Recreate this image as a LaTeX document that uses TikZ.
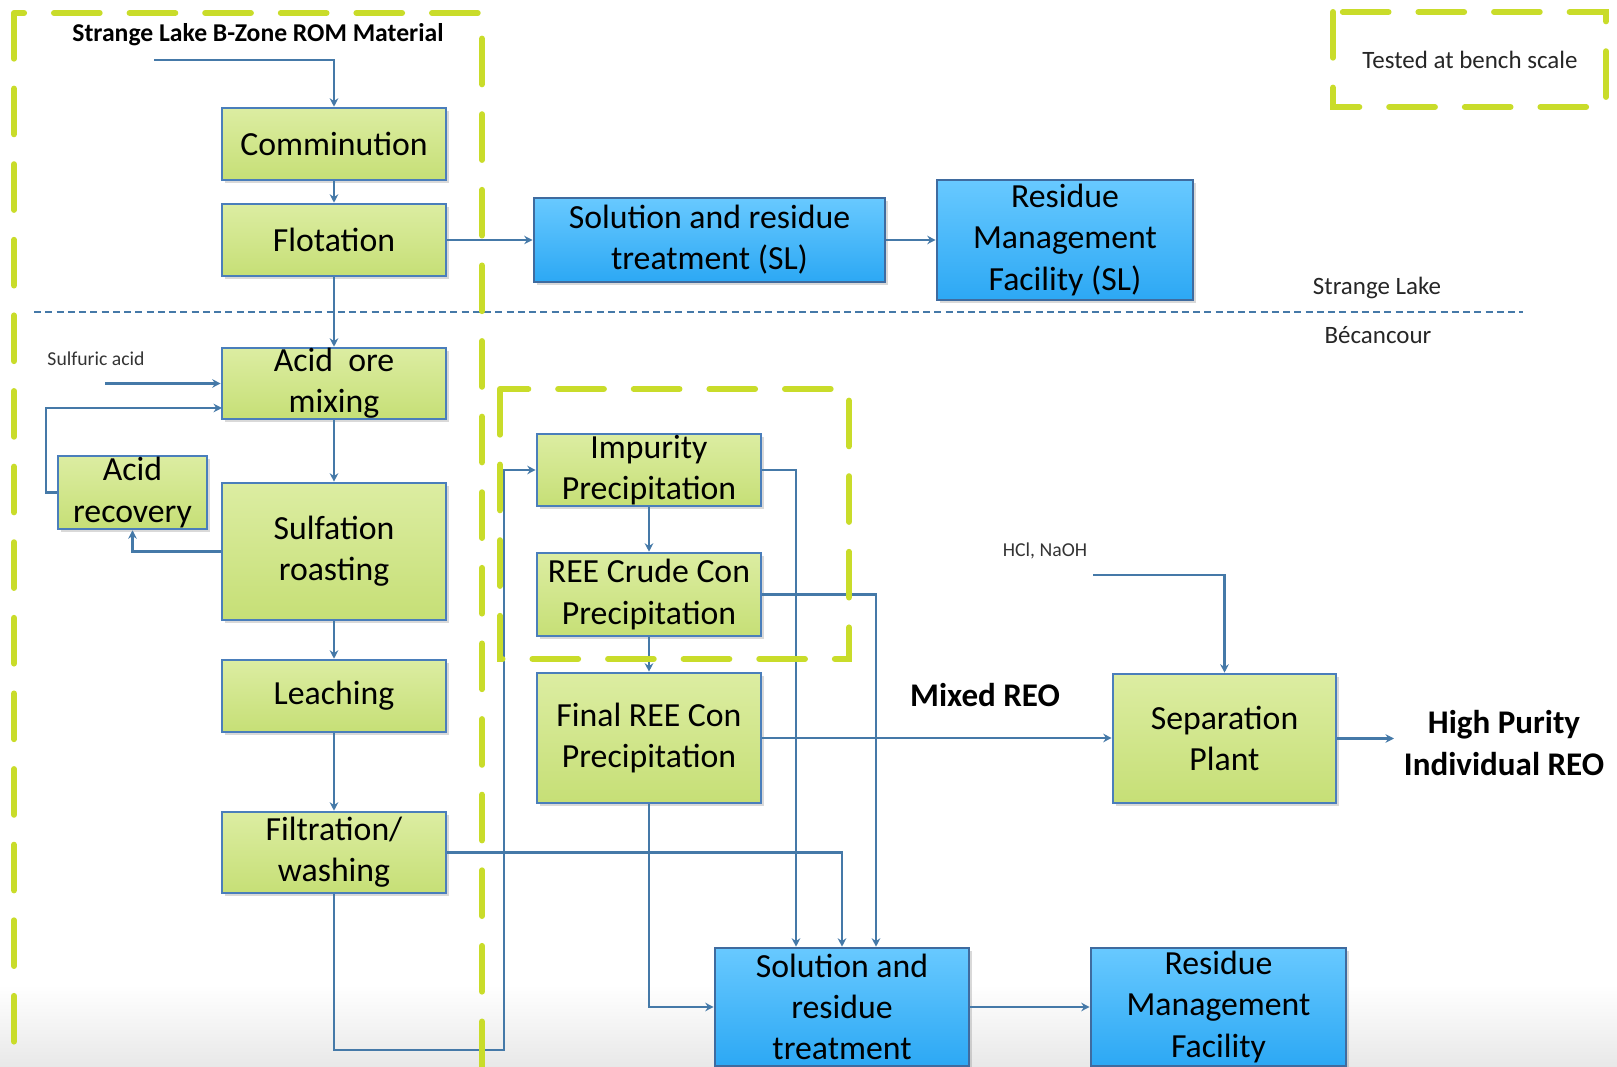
\documentclass[tikz,border=0pt]{standalone}
\usepackage{fontspec}
\setmainfont{Carlito}
\usepackage{tikz}
\usetikzlibrary{positioning}
\usetikzlibrary{calc}
\usetikzlibrary{shadows}
\usetikzlibrary{arrows.meta}
\definecolor{boxline}{HTML}{4A7EBB}
\definecolor{flowline}{HTML}{4579A8}
\definecolor{greentop}{HTML}{DCEDA2}
\definecolor{greenbot}{HTML}{C6DF76}
\definecolor{bluetop}{HTML}{68C9FF}
\definecolor{bluebot}{HTML}{2CA8F4}
\definecolor{benchdash}{HTML}{C9DC2A}

\begin{document}
\begin{tikzpicture}[x=0.01cm, y=-0.01cm,
  gbox/.style={draw=boxline, line width=0.7pt, top color=greentop, bottom color=greenbot, align=center, inner sep=0pt, font=\fontsize{9.6}{11.7}\selectfont, drop shadow={shadow xshift=0.9pt, shadow yshift=-0.9pt, opacity=0.3}},
  bbox/.style={gbox, top color=bluetop, bottom color=bluebot, draw=boxline!85!black},
  flow/.style={draw=flowline, line width=0.6pt, -{Stealth[length=2.4pt,width=2.4pt]}},
  benchline/.style={draw=benchdash, line width=1.7pt, dash pattern=on 13pt off 8.5pt, line cap=round},
  smalltxt/.style={font=\fontsize{5.6}{7}\selectfont, text=black!80},
  sitetxt/.style={font=\fontsize{7.1}{8.5}\selectfont, text=black!85},
  bigtxt/.style={font=\bfseries\fontsize{9.4}{11.7}\selectfont, align=center}]
\useasboundingbox (0,0) rectangle (1617,1067);
\clip (0,0) rectangle (1617,1067);
\fill[top color=white, bottom color=black!9] (0,985) rectangle (1617,1067);

\draw[draw=flowline, line width=0.5pt, dash pattern=on 2pt off 1.2pt] (34,312) -- (1523,312);

\node[gbox, minimum width=2.24cm, minimum height=0.72cm] (comm) at (334,144) {Comminution};
\node[gbox, minimum width=2.24cm, minimum height=0.72cm] (flot) at (334,240) {Flotation};
\node[gbox, minimum width=2.24cm, minimum height=0.71cm] (mix) at (334,383.5) {Acid~ ore\\mixing};
\node[gbox, minimum width=1.49cm, minimum height=0.73cm] (acrec) at (132.5,492.5) {Acid\\recovery};
\node[gbox, minimum width=2.24cm, minimum height=1.37cm] (roast) at (334,551.5) {Sulfation\\roasting};
\node[gbox, minimum width=2.24cm, minimum height=0.72cm] (leach) at (334,696) {Leaching};
\node[gbox, minimum width=2.24cm, minimum height=0.81cm] (filt) at (334,852.5) {Filtration/\\washing};
\node[bbox, minimum width=3.51cm, minimum height=0.84cm] (soltreatsl) at (709.5,240) {Solution and residue\\treatment (SL)};
\node[bbox, minimum width=2.56cm, minimum height=1.20cm] (resfacsl) at (1065,240) {Residue\\Management\\Facility (SL)};
\node[gbox, minimum width=2.24cm, minimum height=0.72cm] (imp) at (649,470) {Impurity\\Precipitation};
\node[gbox, minimum width=2.24cm, minimum height=0.83cm] (crude) at (649,594.5) {REE Crude Con\\Precipitation};
\node[gbox, minimum width=2.24cm, minimum height=1.30cm] (final) at (649,738) {Final REE Con\\Precipitation};
\node[gbox, minimum width=2.23cm, minimum height=1.29cm] (sep) at (1224.5,738.5) {Separation\\Plant};
\node[bbox, minimum width=2.54cm, minimum height=1.18cm] (soltreat) at (842,1007) {Solution and\\residue\\treatment};
\node[bbox, minimum width=2.55cm, minimum height=1.18cm] (resfac) at (1218.5,1007) {Residue\\Management\\Facility};

\node[font=\bfseries\fontsize{7.3}{9}\selectfont] (orelbl) at (258,35) {Strange Lake B-Zone ROM Material};
\node[smalltxt] (acidlbl) at (96,359) {Sulfuric acid};
\node[smalltxt] (hcllbl) at (1045,551) {HCl, NaOH};
\node[bigtxt] (mixlbl) at (985,695) {Mixed REO};
\node[bigtxt] (purelbl) at (1504,743) {High Purity\\Individual REO};
\node[sitetxt] (sllbl) at (1377,288) {Strange Lake};
\node[sitetxt] (beclbl) at (1378,335) {Bécancour};
\node[sitetxt] (benchlbl) at (1470,60) {Tested at bench scale};

\coordinate (inp) at (154,60);
\coordinate (acidin) at (105,383.5);
\coordinate (recin) at (222,408);
\coordinate (loopc) at (504,1050);
\coordinate (hclin) at (1093,575);
\coordinate (pureout) at (1394,738.5);

\draw[flow] (inp) -| (comm.north);
\draw[flow] (comm) -- (flot);
\draw[flow] (flot) -- (soltreatsl);
\draw[flow] (soltreatsl) -- (resfacsl);
\draw[flow] (flot) -- (mix);
\draw[flow] (acidin) -- (mix.west);
\draw[flow] (acrec.west) -- ++(-11,0) |- (recin);
\draw[flow] (mix) -- (roast);
\draw[flow] (roast.west) -| (acrec.south);
\draw[flow] (roast) -- (leach);
\draw[flow] (leach) -- (filt);
\draw[flow] (filt.east) -| (soltreat.north);
\draw[flow] (filt.south) |- (loopc) |- (imp.west);
\draw[flow] (imp) -- (crude);
\draw[flow] (crude) -- (final);
\draw[flow] (imp.east) -| ($(soltreat.north)+(-46,0)$);
\draw[flow] (crude.east) -| ($(soltreat.north)+(34,0)$);
\draw[flow] (final.east) -- (sep.west |- final.east);
\draw[flow] (final.south) |- (soltreat.west);
\draw[flow] (soltreat) -- (resfac);
\draw[flow] (hclin) -| (sep.north);
\draw[flow] (sep.east) -- (pureout);

\draw[benchline] (14,13) rectangle (482,1100);
\draw[benchline] (500,389) rectangle (849,659);
\draw[benchline] (1333,12) rectangle (1606,107);
\end{tikzpicture}
\end{document}
